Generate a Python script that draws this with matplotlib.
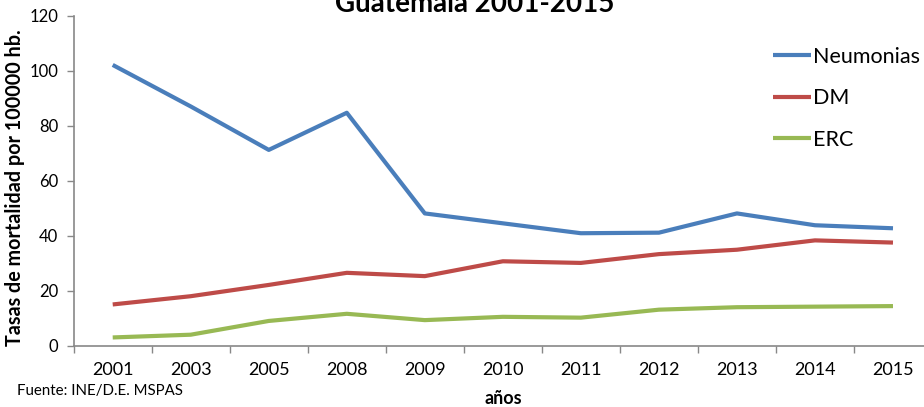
import numpy as np
import matplotlib
matplotlib.use("Agg")
import matplotlib.pyplot as plt

plt.rcParams['font.family'] = ['Lato', 'DejaVu Sans']

# Mortality rates per 100000 inhabitants
years = ["2001", "2003", "2005", "2008", "2009", "2010", "2011", "2012", "2013", "2014", "2015"]
neumonias = [102.1, 87.0, 71.2, 84.7, 48.1, 44.5, 40.9, 41.1, 48.1, 43.8, 42.7]
dm = [15.0, 18.0, 22.1, 26.5, 25.3, 30.7, 30.1, 33.3, 34.9, 38.3, 37.5]
erc = [3.0, 4.0, 9.0, 11.6, 9.3, 10.5, 10.2, 13.1, 14.0, 14.2, 14.4]

series = [
    ("Neumonias", neumonias, "#4A7EBB"),
    ("DM", dm, "#BE4B48"),
    ("ERC", erc, "#98B954"),
]

fig = plt.figure(figsize=(9.24, 4.07), dpi=100)
# plot area runs slightly past the right edge of the figure
ax = fig.add_axes([73.7 / 924, 1 - 345.7 / 407, (932 - 73.7) / 924, (345.7 - 15.7) / 407])

x = np.arange(len(years))
for name, vals, color in series:
    ax.plot(x, vals, color=color, linewidth=3, label=name, solid_capstyle="butt")

ax.set_xlim(-0.5, len(years) - 0.5)
ax.set_ylim(0, 120)
ax.set_yticks(np.arange(0, 121, 20))
ax.set_xticks(x)
ax.set_xticklabels(years, fontsize=13)
ax.set_xticks(np.arange(-0.5, len(years), 1), minor=True)
ax.tick_params(axis="x", which="major", length=0, pad=12)
ax.tick_params(axis="x", which="minor", length=5, color="#888888", width=1)
ax.tick_params(axis="y", length=5, color="#888888", width=1, labelsize=12, pad=6)

for side in ["top", "right"]:
    ax.spines[side].set_visible(False)
for side in ["left", "bottom"]:
    ax.spines[side].set_color("#888888")
    ax.spines[side].set_linewidth(1.2)

ax.set_ylabel("Tasas de mortalidad por 100000 hb.", fontsize=14.2, fontweight="bold")
ax.yaxis.set_label_coords(-0.057, 0.479)

fig.text(0.514, 1 - 12 / 407, "Guatemala 2001-2015", ha="center", va="baseline",
         fontsize=20, fontweight="bold")
fig.text(503 / 924, 1 - 399 / 407, "años", ha="center", va="center",
         fontsize=13, fontweight="bold")
fig.text(17 / 924, 1 - 391 / 407, "Fuente: INE/D.E. MSPAS", ha="left", va="center",
         fontsize=10.8)

leg = ax.legend(loc="upper left", bbox_to_anchor=((773 - 73.7) / (932 - 73.7), 1 - 31 / 330),
                frameon=False, fontsize=15.5, handlelength=1.75, handletextpad=0.12,
                labelspacing=1.0, borderaxespad=0, borderpad=0)

fig.savefig("out.png", dpi=100)
